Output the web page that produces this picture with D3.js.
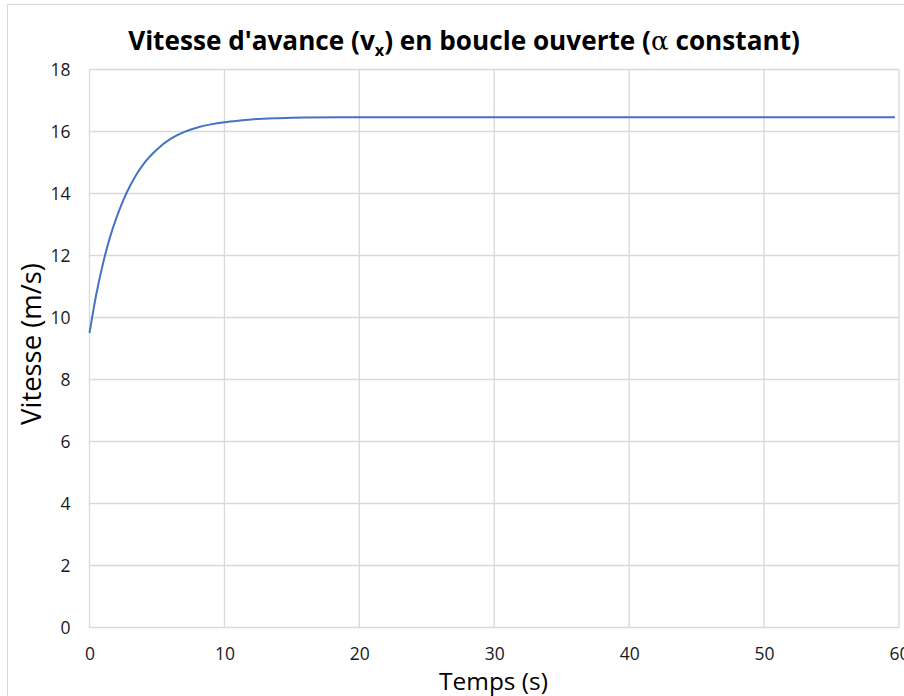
<!DOCTYPE html>
<html>
<head>
<meta charset="utf-8">
<script src="https://cdn.jsdelivr.net/npm/d3@7"></script>
<style>
  html, body { margin: 0; padding: 0; background: #fff; overflow: hidden; }
  svg { display: block; }
</style>
</head>
<body>
<svg id="chart" width="904" height="696"></svg>
<script>
// Simulated forward speed, open loop
const timeS = [0, 0.5, 1, 1.5, 2, 2.5, 3, 3.5, 4, 5, 6, 7, 8, 9, 10, 11, 12, 14, 16, 20, 30, 40, 50, 59.7];
const speedMs = [9.50, 10.74, 11.74, 12.56, 13.22, 13.78, 14.24, 14.63, 14.95, 15.42, 15.76, 15.98, 16.13, 16.23, 16.30, 16.35, 16.39, 16.43, 16.45, 16.46, 16.46, 16.46, 16.46, 16.46];
const xTicks = [0, 10, 20, 30, 40, 50, 60];
const yTicks = [0, 2, 4, 6, 8, 10, 12, 14, 16, 18];

const FONT = "'Open Sans', 'Noto Sans', sans-serif";
const svg = d3.select("#chart");

// Chart frame
svg.append("rect")
  .attr("x", 7.5).attr("y", 4.5)
  .attr("width", 1000).attr("height", 1000)
  .attr("fill", "none").attr("stroke", "#d9d9d9").attr("stroke-width", 1);

const x = d3.scaleLinear().domain([0, 60]).range([89.5, 899]);
const y = d3.scaleLinear().domain([0, 18]).range([627.5, 69.5]);

// Gridlines
const grid = svg.append("g").attr("stroke", "#d9d9d9").attr("stroke-width", 1.3);
grid.selectAll("line.h").data(yTicks).join("line")
  .attr("class", "h")
  .attr("x1", x(0)).attr("x2", x(60))
  .attr("y1", d => y(d)).attr("y2", d => y(d));
grid.selectAll("line.v").data(xTicks).join("line")
  .attr("class", "v")
  .attr("y1", y(0)).attr("y2", y(18))
  .attr("x1", d => x(d)).attr("x2", d => x(d));

// Tick labels via axes (no domain or tick marks)
const xAxis = svg.append("g")
  .attr("transform", `translate(0,${y(0)})`)
  .call(d3.axisBottom(x).tickValues(xTicks).tickSize(0).tickPadding(20));
const yAxis = svg.append("g")
  .attr("transform", `translate(${x(0)},0)`)
  .call(d3.axisLeft(y).tickValues(yTicks).tickSize(0).tickPadding(19));
[xAxis, yAxis].forEach(a => {
  a.select(".domain").remove();
  a.selectAll("text")
    .attr("font-family", FONT)
    .attr("font-size", 17.5)
    .attr("fill", "#1a1a1a");
});

// Data line
const line = d3.line()
  .x((d, i) => x(timeS[i]))
  .y(d => y(d))
  .curve(d3.curveMonotoneX);
svg.append("path")
  .datum(speedMs)
  .attr("d", line)
  .attr("fill", "none")
  .attr("stroke", "#4472c4")
  .attr("stroke-width", 2)
  .attr("stroke-linejoin", "round");

// Scale a text element so its width equals the given width
function fitWidth(sel, target) {
  const w = sel.node().getBBox().width;
  const fs = parseFloat(sel.attr("font-size"));
  sel.attr("font-size", fs * target / w);
}

// Title
const title = svg.append("text")
  .attr("x", 464).attr("y", 50)
  .attr("text-anchor", "middle")
  .attr("font-family", FONT)
  .attr("font-weight", 700)
  .attr("font-size", 24)
  .attr("fill", "#000");
title.append("tspan").text("Vitesse d'avance (v");
title.append("tspan").text("x").style("font-size", "0.62em").attr("dy", 6);
title.append("tspan").text(") en boucle ouverte (").attr("dy", -6);
title.append("tspan").text("α").attr("font-family", "'DejaVu Serif', 'Liberation Serif', serif").attr("font-weight", 400);
title.append("tspan").text(" constant)");
fitWidth(title, 672);

// Axis titles
const xTitle = svg.append("text")
  .attr("x", 493.5).attr("y", 690)
  .attr("text-anchor", "middle")
  .attr("font-family", FONT)
  .attr("font-size", 20)
  .attr("fill", "#000")
  .text("Temps (s)");
fitWidth(xTitle, 109);

const yTitle = svg.append("text")
  .attr("transform", "translate(41,344) rotate(-90)")
  .attr("text-anchor", "middle")
  .attr("font-family", FONT)
  .attr("font-size", 20)
  .attr("fill", "#000")
  .text("Vitesse (m/s)");
fitWidth(yTitle, 162);
</script>
</body>
</html>
